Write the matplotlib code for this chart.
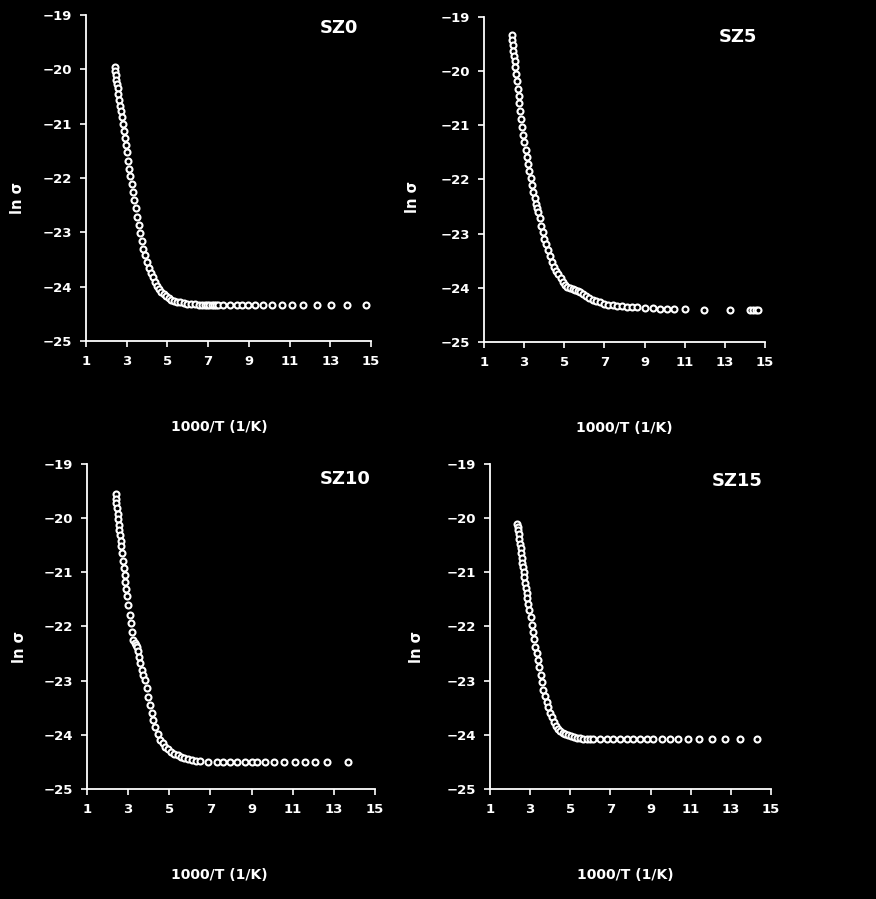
import matplotlib
matplotlib.use("Agg")
import matplotlib.pyplot as plt

# 1000/T (1/K) and ln(sigma)
sz0_x = [2.40, 2.43, 2.46, 2.49, 2.52, 2.55, 2.59, 2.63, 2.67, 2.71, 2.75, 2.80, 2.85, 2.90,
         2.95, 3.00, 3.06, 3.12, 3.18, 3.24, 3.30, 3.37, 3.44, 3.51, 3.58, 3.66, 3.74, 3.82,
         3.90, 3.99, 4.08, 4.17, 4.27, 4.37, 4.47, 4.58, 4.69, 4.81, 4.93, 5.06, 5.19, 5.33,
         5.48, 5.63, 5.79, 5.96, 6.14, 6.33, 6.53, 6.70, 6.84, 6.95, 7.06, 7.17, 7.30, 7.40,
         7.50, 7.74, 8.07, 8.40, 8.65, 8.97, 9.30, 9.71, 10.12, 10.61, 11.10, 11.67, 12.33,
         13.06, 13.80, 14.75]
sz0_y = [-19.95, -20.03, -20.11, -20.19, -20.27, -20.35, -20.46, -20.56, -20.67, -20.77,
         -20.88, -21.01, -21.14, -21.27, -21.40, -21.53, -21.68, -21.83, -21.97, -22.11,
         -22.25, -22.41, -22.56, -22.71, -22.86, -23.02, -23.16, -23.30, -23.42, -23.54,
         -23.65, -23.74, -23.83, -23.91, -23.98, -24.04, -24.09, -24.14, -24.18, -24.21,
         -24.24, -24.26, -24.28, -24.29, -24.30, -24.31, -24.32, -24.32, -24.33, -24.33,
         -24.33, -24.33, -24.33, -24.33, -24.33, -24.33, -24.33, -24.33, -24.33, -24.33,
         -24.33, -24.33, -24.33, -24.33, -24.33, -24.33, -24.33, -24.33, -24.33, -24.33,
         -24.33, -24.33]

sz5_x = [2.38, 2.41, 2.44, 2.47, 2.50, 2.53, 2.56, 2.60, 2.64, 2.68, 2.72, 2.76, 2.81, 2.86,
         2.91, 2.96, 3.01, 3.07, 3.13, 3.19, 3.25, 3.32, 3.39, 3.46, 3.53, 3.60, 3.65, 3.70,
         3.77, 3.85, 3.93, 4.01, 4.10, 4.19, 4.29, 4.39, 4.49, 4.60, 4.71, 4.82, 4.93, 5.04,
         5.16, 5.28, 5.41, 5.55, 5.68, 5.80, 5.94, 6.09, 6.25, 6.42, 6.60, 6.79, 6.99, 7.20,
         7.42, 7.65, 7.88, 8.12, 8.37, 8.61, 9.02, 9.44, 9.77, 10.10, 10.47, 11.01, 11.96,
         13.26, 14.25, 14.42, 14.55, 14.67]
sz5_y = [-19.33, -19.42, -19.52, -19.62, -19.72, -19.82, -19.93, -20.06, -20.19, -20.33,
         -20.46, -20.59, -20.74, -20.88, -21.03, -21.17, -21.31, -21.45, -21.59, -21.72,
         -21.85, -21.98, -22.11, -22.23, -22.35, -22.46, -22.52, -22.60, -22.72, -22.85,
         -22.97, -23.09, -23.20, -23.31, -23.42, -23.52, -23.61, -23.69, -23.75, -23.82,
         -23.89, -23.95, -23.98, -24.00, -24.02, -24.04, -24.05, -24.08, -24.12, -24.15,
         -24.19, -24.22, -24.25, -24.27, -24.29, -24.31, -24.32, -24.33, -24.34, -24.35,
         -24.36, -24.36, -24.37, -24.38, -24.39, -24.39, -24.40, -24.40, -24.41, -24.41,
         -24.41, -24.41, -24.41, -24.41]

sz10_x = [2.39, 2.41, 2.43, 2.46, 2.49, 2.52, 2.55, 2.58, 2.61, 2.64, 2.67, 2.71, 2.75, 2.79,
          2.83, 2.87, 2.91, 2.95, 3.00, 3.09, 3.12, 3.17, 3.25, 3.33, 3.38, 3.42, 3.49, 3.54,
          3.58, 3.66, 3.74, 3.82, 3.90, 3.98, 4.06, 4.15, 4.23, 4.31, 4.43, 4.55, 4.68, 4.81,
          4.95, 5.09, 5.24, 5.40, 5.56, 5.73, 5.91, 6.10, 6.29, 6.49, 6.90, 7.30, 7.63, 7.95,
          8.28, 8.68, 9.01, 9.25, 9.65, 10.09, 10.58, 11.11, 11.60, 12.08, 12.68, 13.70]
sz10_y = [-19.56, -19.64, -19.72, -19.82, -19.92, -20.02, -20.12, -20.22, -20.32, -20.42,
          -20.52, -20.65, -20.79, -20.92, -21.05, -21.18, -21.31, -21.44, -21.60, -21.79,
          -21.94, -22.10, -22.25, -22.31, -22.34, -22.37, -22.46, -22.57, -22.68, -22.80,
          -22.90, -22.99, -23.14, -23.30, -23.45, -23.60, -23.73, -23.85, -23.98, -24.09,
          -24.16, -24.22, -24.27, -24.31, -24.35, -24.38, -24.41, -24.43, -24.45, -24.47,
          -24.48, -24.49, -24.50, -24.50, -24.51, -24.51, -24.51, -24.51, -24.51, -24.51,
          -24.51, -24.51, -24.51, -24.51, -24.51, -24.51, -24.51, -24.51]

sz15_x = [2.36, 2.38, 2.40, 2.43, 2.46, 2.49, 2.52, 2.55, 2.58, 2.61, 2.64, 2.67, 2.70, 2.74,
          2.78, 2.82, 2.86, 2.91, 2.96, 3.02, 3.08, 3.14, 3.20, 3.26, 3.32, 3.38, 3.45, 3.52,
          3.59, 3.66, 3.74, 3.82, 3.90, 3.99, 4.08, 4.18, 4.28, 4.39, 4.50, 4.62, 4.75, 4.88,
          5.02, 5.17, 5.33, 5.49, 5.65, 5.82, 5.98, 6.15, 6.48, 6.82, 7.14, 7.48, 7.81, 8.14,
          8.47, 8.81, 9.14, 9.55, 9.97, 10.38, 10.88, 11.43, 12.05, 12.71, 13.46, 14.29]
sz15_y = [-20.10, -20.16, -20.22, -20.30, -20.39, -20.48, -20.56, -20.65, -20.74, -20.82,
          -20.91, -21.00, -21.08, -21.20, -21.29, -21.38, -21.47, -21.58, -21.70, -21.83,
          -21.97, -22.10, -22.23, -22.37, -22.49, -22.61, -22.75, -22.89, -23.03, -23.17,
          -23.28, -23.39, -23.49, -23.60, -23.68, -23.76, -23.83, -23.89, -23.93, -23.96,
          -23.99, -24.01, -24.03, -24.04, -24.05, -24.06, -24.07, -24.07, -24.08, -24.08,
          -24.08, -24.08, -24.08, -24.08, -24.08, -24.08, -24.08, -24.08, -24.08, -24.08,
          -24.08, -24.08, -24.08, -24.08, -24.08, -24.08, -24.08, -24.08]

names = ["SZ0", "SZ5", "SZ10", "SZ15"]
xs = [sz0_x, sz5_x, sz10_x, sz15_x]
ys = [sz0_y, sz5_y, sz10_y, sz15_y]
xticks = [1, 3, 5, 7, 9, 11, 13, 15]
yticks = [-25, -24, -23, -22, -21, -20, -19]

# axes boxes in figure fractions, plus label / title spots in axes coords
boxes = [[0.0982, 0.6207, 0.3253, 0.3626],
         [0.5525, 0.6196, 0.3208, 0.3615],
         [0.0993, 0.1224, 0.3288, 0.3615],
         [0.5594, 0.1224, 0.3208, 0.3615]]
xlab_pos = [(0.467, -0.242), (0.50, -0.242), (0.458, -0.243), (0.48, -0.243)]
ylab_pos = [(-0.242, 0.44), (-0.253, 0.446), (-0.233, 0.437), (-0.263, 0.437)]
title_pos = [(0.888, 0.96), (0.904, 0.938), (0.896, 0.954), (0.878, 0.948)]

plt.rcParams['font.family'] = 'DejaVu Sans'
plt.rcParams['font.weight'] = 'bold'

fig = plt.figure(figsize=(8.76, 8.99), dpi=100, facecolor='black')

for i in range(4):
    ax = fig.add_axes(boxes[i])
    ax.set_facecolor('black')
    ax.plot(xs[i], ys[i], 'o', ms=4.3, mfc='black', mec='white', mew=1.5, clip_on=False)
    ax.set_xlim(1, 15)
    ax.set_ylim(-25, -19)
    ax.set_xticks(xticks)
    ax.set_yticks(yticks)
    for s in ['top', 'right']:
        ax.spines[s].set_visible(False)
    for s in ['left', 'bottom']:
        ax.spines[s].set_color('white')
        ax.spines[s].set_linewidth(1.3)
    ax.tick_params(colors='white', direction='out', length=4, width=1.2,
                   labelsize=9.5, pad=6)
    for lab in ax.get_xticklabels() + ax.get_yticklabels():
        lab.set_fontweight('bold')

    ax.set_xlabel("1000/T (1/K)", color='white', fontsize=10, fontweight='bold')
    ax.xaxis.set_label_coords(*xlab_pos[i])
    ax.set_ylabel("ln σ", color='white', fontsize=10.5, fontweight='bold')
    ax.yaxis.set_label_coords(*ylab_pos[i])
    ax.yaxis.label.set_va('center')

    ax.text(title_pos[i][0], title_pos[i][1], names[i], transform=ax.transAxes,
            color='white', fontsize=13, fontweight='bold', ha='center', va='center')

fig.savefig("out.png", dpi=100, facecolor='black')
